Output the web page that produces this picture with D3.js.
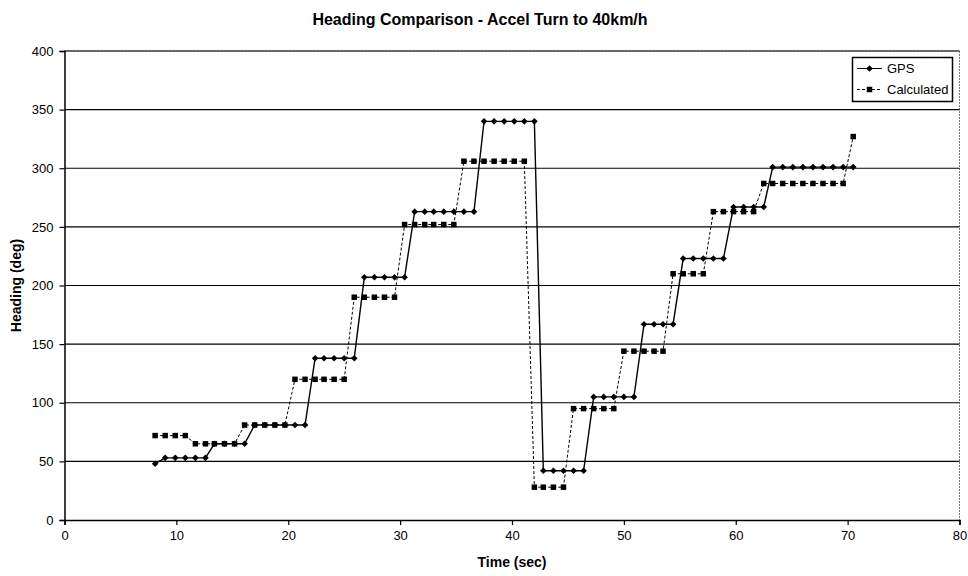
<!DOCTYPE html>
<html>
<head>
<meta charset="utf-8">
<script src="https://cdn.jsdelivr.net/npm/d3@7"></script>
<style>
body { margin:0; background:#fff; }
text { font-family: "Liberation Sans", Arial, sans-serif; fill:#000; }
</style>
</head>
<body>
<svg id="chart" width="968" height="576"></svg>
<script>
// time stamps (sec)
var times=[8.1,9.0,9.9,10.8,11.7,12.6,13.4,14.3,15.2,16.1,
  17.0,17.9,18.8,19.7,20.6,21.5,22.4,23.2,24.1,25.0,
  25.9,26.8,27.7,28.6,29.5,30.4,31.3,32.2,33.0,33.9,
  34.8,35.7,36.6,37.5,38.4,39.3,40.2,41.1,42.0,42.8,
  43.7,44.6,45.5,46.4,47.3,48.2,49.1,50.0,50.9,51.8,
  52.7,53.5,54.4,55.3,56.2,57.1,58.0,58.9,59.8,60.7,
  61.6,62.5,63.3,64.2,65.1,66.0,66.9,67.8,68.7,69.6,70.5];

var gps=[48,53,53,53,53,53,65,65,65,65,
  81,81,81,81,81,81,138,138,138,138,
  138,207,207,207,207,207,263,263,263,263,
  263,263,263,340,340,340,340,340,340,42,
  42,42,42,42,105,105,105,105,105,167,
  167,167,167,223,223,223,223,223,267,267,
  267,267,301,301,301,301,301,301,301,301,301];

var calculated=[72,72,72,72,65,65,65,65,65,81,
  81,81,81,81,120,120,120,120,120,120,
  190,190,190,190,190,252,252,252,252,252,
  252,306,306,306,306,306,306,306,28,28,
  28,28,95,95,95,95,95,144,144,144,
  144,144,210,210,210,210,263,263,263,263,
  263,287,287,287,287,287,287,287,287,287,327];

var xTicks=[0,10,20,30,40,50,60,70,80];
var yTicks=[0,50,100,150,200,250,300,350,400];

var svg=d3.select("#chart");
var pLeft=64.5, pRight=959.5, pTop=51, pBottom=520;

var x=d3.scaleLinear().domain([0,80]).range([pLeft,pRight]);
var y=d3.scaleLinear().domain([0,400]).range([pBottom,pTop]);

// title
svg.append("text").attr("x",480).attr("y",25).attr("text-anchor","middle")
  .style("font-size","16px").style("font-weight","bold")
  .text("Heading Comparison - Accel Turn to 40km/h");

// plot frame (dotted grey top/right)
svg.append("line").attr("x1",pLeft).attr("x2",pRight).attr("y1",pTop).attr("y2",pTop)
  .attr("stroke","#777").attr("stroke-dasharray","2,1");
svg.append("line").attr("x1",pRight).attr("x2",pRight).attr("y1",pTop).attr("y2",pBottom)
  .attr("stroke","#777").attr("stroke-dasharray","2,1");

// gridlines
svg.append("g").selectAll("line").data(yTicks.filter(function(d){return d>0;}))
  .enter().append("line")
  .attr("x1",pLeft).attr("x2",pRight)
  .attr("y1",function(d){return y(d);}).attr("y2",function(d){return y(d);})
  .attr("stroke","#000").attr("stroke-width",1.2);

// axes
var yAxis=d3.axisLeft(y).tickValues(yTicks).tickSize(5).tickPadding(6);
var xAxis=d3.axisBottom(x).tickValues(xTicks).tickSize(5).tickPadding(6);
var gy=svg.append("g").attr("transform","translate("+pLeft+",0)").call(yAxis);
var gx=svg.append("g").attr("transform","translate(0,"+pBottom+")").call(xAxis);
[gx,gy].forEach(function(g){
  g.select(".domain").attr("stroke","#000").attr("stroke-width",1.5);
  g.selectAll(".tick line").attr("stroke","#000").attr("stroke-width",1.2);
  g.selectAll("text").style("font-size","13px").style("font-family","'Liberation Sans', Arial, sans-serif");
});

// axis titles
svg.append("text").attr("x",(pLeft+pRight)/2).attr("y",567).attr("text-anchor","middle")
  .style("font-size","14px").style("font-weight","bold").text("Time (sec)");
svg.append("text").attr("transform","translate(21,"+((pTop+pBottom)/2)+") rotate(-90)")
  .attr("text-anchor","middle")
  .style("font-size","14px").style("font-weight","bold").text("Heading (deg)");

var gpsData=times.map(function(t,i){return [t,gps[i]];});
var calcData=times.map(function(t,i){return [t,calculated[i]];});

var line=d3.line().x(function(d){return x(d[0]);}).y(function(d){return y(d[1]);});

svg.append("path").datum(calcData).attr("d",line)
  .attr("fill","none").attr("stroke","#000").attr("stroke-width",1)
  .attr("stroke-dasharray","3,2");
svg.append("path").datum(gpsData).attr("d",line)
  .attr("fill","none").attr("stroke","#000").attr("stroke-width",1.4);

var diamond=d3.symbol().type(d3.symbolDiamond2).size(28);
var square=d3.symbol().type(d3.symbolSquare).size(30);

svg.append("g").selectAll("path").data(calcData).enter().append("path")
  .attr("d",square)
  .attr("transform",function(d){return "translate("+x(d[0])+","+y(d[1])+")";})
  .attr("fill","#000");
svg.append("g").selectAll("path").data(gpsData).enter().append("path")
  .attr("d",diamond)
  .attr("transform",function(d){return "translate("+x(d[0])+","+y(d[1])+")";})
  .attr("fill","#000");

// legend
var lg=svg.append("g");
lg.append("rect").attr("x",852.5).attr("y",57.5).attr("width",100).attr("height",44)
  .attr("fill","#fff").attr("stroke","#000").attr("stroke-width",1.5);
var leg=[{name:"GPS",dash:null,sym:diamond,y:68.5},{name:"Calculated",dash:"3,2",sym:square,y:89.5}];
leg.forEach(function(l){
  lg.append("line").attr("x1",857).attr("x2",882).attr("y1",l.y).attr("y2",l.y)
    .attr("stroke","#000").attr("stroke-width",1).attr("stroke-dasharray",l.dash);
  lg.append("path").attr("d",l.sym).attr("transform","translate(869.5,"+l.y+")").attr("fill","#000");
  lg.append("text").attr("x",887).attr("y",l.y+4.5).style("font-size","13px").text(l.name);
});
</script>
</body>
</html>
